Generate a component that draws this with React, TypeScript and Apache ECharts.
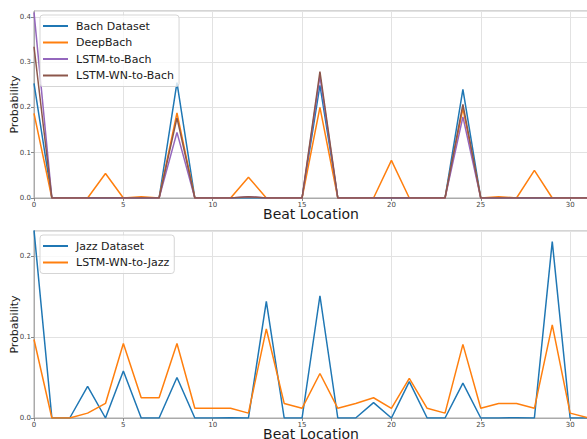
import React, { useEffect, useRef } from "react";
import * as echarts from "echarts";

const beats = [0, 1, 2, 3, 4, 5, 6, 7, 8, 9, 10, 11, 12, 13, 14, 15, 16, 17, 18, 19, 20, 21, 22, 23, 24, 25, 26, 27, 28, 29, 30, 31];

const bachDataset = [0.253, 0, 0, 0, 0, 0, 0, 0, 0.255, 0, 0, 0, 0, 0, 0, 0, 0.249, 0, 0, 0, 0, 0, 0, 0, 0.24, 0, 0, 0, 0, 0, 0, 0];
const deepBach = [0.187, 0, 0, 0, 0.054, 0, 0.003, 0, 0.188, 0, 0, 0, 0.046, 0, 0, 0, 0.2, 0, 0, 0, 0.083, 0, 0, 0, 0.198, 0, 0.003, 0, 0.061, 0, 0, 0];
const lstmToBach = [0.41, 0, 0, 0, 0, 0, 0, 0, 0.145, 0, 0, 0, 0.003, 0, 0, 0, 0.269, 0, 0, 0, 0, 0, 0, 0, 0.179, 0, 0, 0, 0, 0, 0, 0];
const lstmWnToBach = [0.334, 0, 0, 0, 0, 0, 0, 0, 0.177, 0, 0, 0, 0.003, 0, 0, 0, 0.279, 0, 0, 0, 0, 0, 0, 0, 0.207, 0, 0, 0, 0, 0, 0, 0];

const jazzDataset = [0.232, 0, 0, 0.039, 0, 0.058, 0, 0, 0.05, 0, 0, 0.0003, 0, 0.144, 0, 0, 0.151, 0, 0, 0.019, 0, 0.045, 0, 0, 0.043, 0, 0, 0.0003, 0, 0.218, 0, 0];
const lstmWnToJazz = [0.097, 0, 0, 0.006, 0.018, 0.092, 0.025, 0.025, 0.092, 0.012, 0.012, 0.012, 0.006, 0.11, 0.018, 0.012, 0.055, 0.012, 0.018, 0.025, 0.012, 0.049, 0.012, 0.006, 0.091, 0.012, 0.018, 0.018, 0.012, 0.115, 0.006, 0.0004];

const topNames = ["Bach Dataset", "DeepBach", "LSTM-to-Bach", "LSTM-WN-to-Bach"];
const bottomNames = ["Jazz Dataset", "LSTM-WN-to-Jazz"];

const FONT = "DejaVu Sans";

function pairs(values: number[]) {
  return beats.map((b, i) => [b, values[i]]);
}

function xAxisFor(gridIndex: number) {
  return {
    type: "value",
    gridIndex,
    min: 0,
    max: 31,
    interval: 5,
    name: "Beat Location",
    nameLocation: "middle",
    nameGap: 9,
    nameMoveOverlap: false,
    nameTextStyle: { fontSize: 14, color: "#1a1a1a", fontFamily: FONT },
    axisLine: { show: true, onZero: false, lineStyle: { color: "#aaaaaa", width: 1 } },
    axisTick: { show: true, length: 3, lineStyle: { color: "#888888" } },
    axisLabel: { fontSize: 7, color: "#444444", margin: 3, showMaxLabel: false, fontFamily: FONT },
    splitLine: { show: true, lineStyle: { color: "#e2e2e2", width: 1 } },
  };
}

function yAxisFor(gridIndex: number, max: number) {
  return {
    type: "value",
    gridIndex,
    min: 0,
    max,
    interval: 0.1,
    name: "Probability",
    nameLocation: "middle",
    nameGap: 14,
    nameMoveOverlap: false,
    nameTextStyle: { fontSize: 11, color: "#1a1a1a", fontFamily: FONT },
    axisLine: { show: true, lineStyle: { color: "#aaaaaa", width: 1 } },
    axisTick: { show: true, length: 3, lineStyle: { color: "#888888" } },
    axisLabel: {
      fontSize: 7,
      color: "#444444",
      margin: 3,
      showMaxLabel: false,
      fontFamily: FONT,
      formatter: (v: number) => v.toFixed(1),
    },
    splitLine: { show: true, lineStyle: { color: "#e2e2e2", width: 1 } },
  };
}

function lineSeries(name: string, values: number[], color: string, axisIndex: number) {
  return {
    type: "line",
    name,
    xAxisIndex: axisIndex,
    yAxisIndex: axisIndex,
    data: pairs(values),
    symbol: "none",
    showSymbol: false,
    color,
    lineStyle: { color, width: 1.5 },
    clip: true,
  };
}

function legendFor(names: string[], top: number) {
  return {
    data: names,
    orient: "vertical",
    left: 40,
    top,
    icon: "rect",
    itemWidth: 25,
    itemHeight: 2,
    itemGap: 2.5,
    padding: [4, 5, 4, 3],
    backgroundColor: "rgba(255,255,255,0.8)",
    borderColor: "#d5d5d5",
    borderWidth: 1,
    borderRadius: 3,
    textStyle: { fontSize: 11, color: "#1a1a1a", fontFamily: FONT, lineHeight: 14, padding: [0, 0, 0, 3] },
  };
}

export default function App() {
  const ref = useRef<HTMLDivElement>(null);
  useEffect(() => {
    const chart = echarts.init(ref.current!, null, { renderer: "svg" });
    chart.setOption({
      animation: false,
      backgroundColor: "#ffffff",
      textStyle: { fontFamily: FONT },
      grid: [
        { left: 34, right: -1, top: 11, height: 187, show: true, borderColor: "#aaaaaa", borderWidth: 1, backgroundColor: "transparent", containLabel: false, outerBoundsMode: "none" },
        { left: 34, right: -1, top: 231, height: 187, show: true, borderColor: "#aaaaaa", borderWidth: 1, backgroundColor: "transparent", containLabel: false, outerBoundsMode: "none" },
      ],
      xAxis: [xAxisFor(0), xAxisFor(1)],
      yAxis: [yAxisFor(0, 0.413), yAxisFor(1, 0.231)],
      legend: [legendFor(topNames, 15), legendFor(bottomNames, 235)],
      series: [
        lineSeries(topNames[0], bachDataset, "#1f77b4", 0),
        lineSeries(topNames[1], deepBach, "#ff7f0e", 0),
        lineSeries(topNames[2], lstmToBach, "#9467bd", 0),
        lineSeries(topNames[3], lstmWnToBach, "#8c564b", 0),
        lineSeries(bottomNames[0], jazzDataset, "#1f77b4", 1),
        lineSeries(bottomNames[1], lstmWnToJazz, "#ff7f0e", 1),
      ],
    });
    return () => chart.dispose();
  }, []);
  return <div ref={ref} style={{ position: "fixed", left: 0, top: 0, width: 587, height: 439 }} />;
}
